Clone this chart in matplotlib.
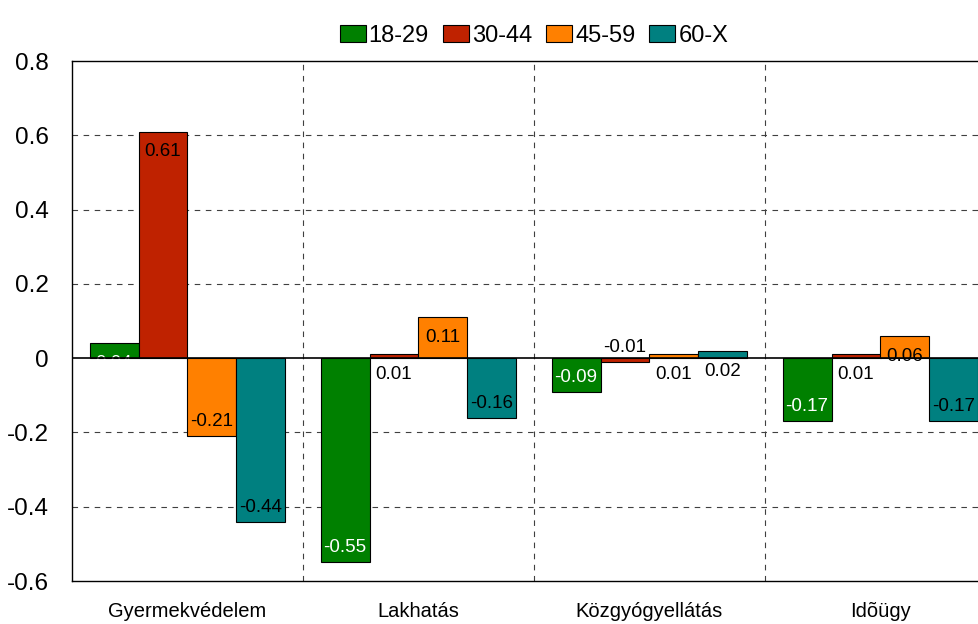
import matplotlib
matplotlib.use('Agg')
import matplotlib.pyplot as plt
import numpy as np

plt.rcParams['font.family'] = ['Liberation Sans', 'DejaVu Sans']

categories = ['Gyermekvédelem', 'Lakhatás', 'Közgyógyellátás', 'Idõügy']
series = ['18-29', '30-44', '45-59', '60-X']
v_18_29 = [0.04, -0.55, -0.09, -0.17]
v_30_44 = [0.61, 0.01, -0.01, 0.01]
v_45_59 = [-0.21, 0.11, 0.01, 0.06]
v_60_x = [-0.44, -0.16, 0.02, -0.17]
values = [v_18_29, v_30_44, v_45_59, v_60_x]
colors = ['#008000', '#BF2200', '#FF8000', '#008080']
label_colors = ['white', 'black', 'black', 'black']

fig = plt.figure(figsize=(9.79, 6.24), dpi=100)
# plot area runs past the right edge of the picture, like the original
ax = fig.add_axes([72/979, 43/624, 924/979, 520/624])

x = np.arange(len(categories))
bw = 0.212
for i, (vals, c) in enumerate(zip(values, colors)):
    pos = x + (i - 1.5) * bw
    ax.bar(pos, vals, bw, color=c, edgecolor='black', linewidth=0.8,
           label=series[i], zorder=3)
    for xp, v in zip(pos, vals):
        if v >= 0:
            ax.text(xp, v - 0.032, '%.2f' % v, ha='center', va='top',
                    fontsize=13.5, color=label_colors[i], zorder=4)
        else:
            ax.text(xp, v + 0.027, '%.2f' % v, ha='center', va='baseline',
                    fontsize=13.5, color=label_colors[i], zorder=4)

ax.set_xlim(-0.5, 3.5)
ax.set_ylim(-0.6, 0.8)
ax.set_yticks(np.arange(-0.6, 0.81, 0.2))
ax.set_yticklabels(['-0.6', '-0.4', '-0.2', '0', '0.2', '0.4', '0.6', '0.8'])
ax.set_xticks(x)
ax.set_xticklabels(categories)
ax.tick_params(axis='y', labelsize=17.5, length=0, pad=17)
ax.tick_params(axis='x', labelsize=14.5, length=0, pad=15)

for yv in [-0.4, -0.2, 0.2, 0.4, 0.6]:
    ax.axhline(yv, color='#404040', linestyle=(0, (5, 5)), linewidth=0.8, zorder=1)
for xv in [0.5, 1.5, 2.5]:
    ax.axvline(xv, color='#404040', linestyle=(0, (5, 5)), linewidth=0.8, zorder=1)
ax.axhline(0, color='black', linewidth=1.2, zorder=5)

for s in ax.spines.values():
    s.set_linewidth(1.0)
    s.set_color('black')

leg = ax.legend(loc='lower center', bbox_to_anchor=(0.5, 1.0), ncol=4,
                frameon=False, fontsize=17, handlelength=1.1, handleheight=0.75,
                handletextpad=0.12, columnspacing=0.6, borderaxespad=0.2)
for h in leg.legend_handles:
    h.set_edgecolor('black')

fig.savefig('out.png', dpi=100, facecolor='w')
